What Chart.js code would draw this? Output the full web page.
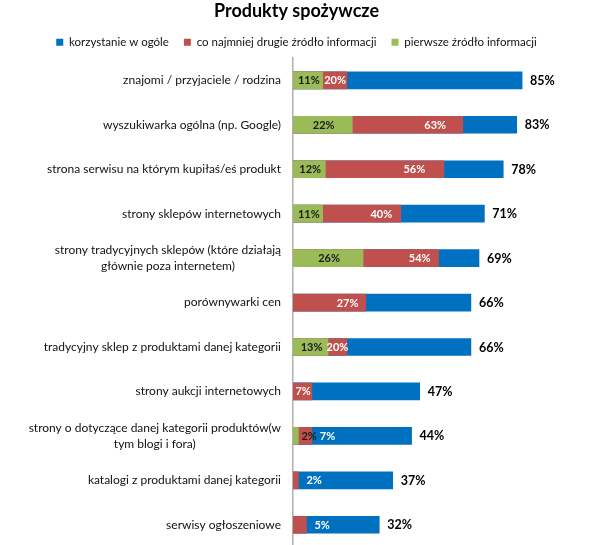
<!DOCTYPE html>
<html><head><meta charset="utf-8">
<script src="https://cdn.jsdelivr.net/npm/chart.js@4.4.1/dist/chart.umd.min.js"></script>
<style>html,body{margin:0;padding:0;background:#fff;overflow:hidden}#wrap{width:615px;height:560px}</style>
</head><body><div id="wrap"><canvas id="c" width="615" height="560"></canvas></div>
<script>
const chartTitle = 'Produkty spożywcze';
const categories = [
  ['znajomi / przyjaciele / rodzina'],
  ['wyszukiwarka ogólna (np. Google)'],
  ['strona serwisu na którym kupiłaś/eś produkt'],
  ['strony sklepów internetowych'],
  ['strony tradycyjnych sklepów (które działają', 'głównie poza internetem)'],
  ['porównywarki cen'],
  ['tradycyjny sklep z produktami danej kategorii'],
  ['strony aukcji internetowych'],
  ['strony o dotyczące danej kategorii produktów(w', 'tym blogi i fora)'],
  ['katalogi z produktami danej kategorii'],
  ['serwisy ogłoszeniowe']
];
const seriesNames = ['korzystanie w ogóle', 'co najmniej drugie źródło informacji', 'pierwsze źródło informacji'];
const useTotal     = [85, 83, 78, 71, 69, 66, 66, 47, 44, 37, 32];
const secondSource = [20, 63, 56, 40, 54, 27, 20, 7, 7, 2, 5];
const firstSource  = [11, 22, 12, 11, 26, null, 13, null, 2, null, null];

const BLUE = '#0070C0', RED = '#C0504D', GREEN = '#9BBB59';
const FONT = 'Lato';
const PLOT_LEFT = 293;

const catLabelPlugin = {
  id: 'catLabels',
  afterDraw(chart) {
    const ctx = chart.ctx, y = chart.scales.y;
    ctx.save();
    ctx.font = '12px ' + FONT;
    ctx.fillStyle = '#111';
    ctx.textBaseline = 'middle';
    ctx.textAlign = 'center';
    const right = 281, lh = 15.5;
    categories.forEach((lines, i) => {
      const yc = y.getPixelForValue(i);
      const maxW = Math.max(...lines.map(l => ctx.measureText(l).width));
      const cx = right - maxW / 2;
      lines.forEach((l, k) => {
        ctx.fillText(l, cx, yc + (k - (lines.length - 1) / 2) * lh);
      });
    });
    ctx.restore();
  }
};

const valueLabelPlugin = {
  id: 'valueLabels',
  afterDatasetsDraw(chart) {
    const ctx = chart.ctx, x = chart.scales.x, y = chart.scales.y;
    const x0 = x.getPixelForValue(0);
    ctx.save();
    ctx.textBaseline = 'middle';
    categories.forEach((_, i) => {
      const yc = y.getPixelForValue(i) + 0.5;
      ctx.font = 'bold 12.5px ' + FONT;
      ctx.fillStyle = '#000';
      ctx.textAlign = 'left';
      ctx.fillText(useTotal[i] + '%', x.getPixelForValue(useTotal[i]) + 8, yc);
      ctx.font = 'bold 11px ' + FONT;
      let start = x0;
      const g = firstSource[i];
      if (g != null) {
        const end = x.getPixelForValue(g);
        const t = g + '%';
        ctx.fillStyle = '#1a1a1a';
        if (end - x0 < 16) { ctx.textAlign = 'left'; ctx.fillText(t, end + 3, yc); }
        else { ctx.textAlign = 'center'; ctx.fillText(t, (x0 + end) / 2 + 1, yc); }
        start = end;
      }
      const r = secondSource[i];
      if (r != null) {
        const end = x.getPixelForValue(r);
        const t = r + '%';
        const lw = ctx.measureText(t).width;
        const w = end - start;
        ctx.fillStyle = '#fff';
        if (w < 16) { ctx.textAlign = 'left'; ctx.fillText(t, end + 8, yc); }
        else {
          let c = Math.min(start + 0.75 * w, end - lw / 2 - 1);
          c = Math.max(c, start + w / 2);
          ctx.textAlign = 'center';
          ctx.fillText(t, c, yc);
        }
      }
    });
    ctx.restore();
  }
};

const mkDs = (label, data, color) => ({
  label, data, backgroundColor: color, borderWidth: 0,
  grouped: false, barThickness: 17
});

new Chart(document.getElementById('c'), {
  type: 'bar',
  data: {
    labels: categories,
    datasets: [
      mkDs(seriesNames[2], firstSource, GREEN),
      mkDs(seriesNames[1], secondSource, RED),
      mkDs(seriesNames[0], useTotal, BLUE)
    ]
  },
  options: {
    indexAxis: 'y',
    responsive: false,
    animation: false,
    devicePixelRatio: 1,
    layout: { padding: { left: 0, right: 22, top: 0, bottom: 13 } },
    plugins: {
      title: {
        display: true, text: chartTitle, color: '#000',
        font: { family: FONT, size: 18, weight: 'bold' },
        padding: { top: 0, bottom: 0 }
      },
      legend: {
        display: true, position: 'top',
        labels: {
          boxWidth: 7, boxHeight: 7, color: '#111',
          font: { family: FONT, size: 11.5 }, padding: 15,
          sort: (a, b) => b.datasetIndex - a.datasetIndex
        }
      },
      tooltip: { enabled: false }
    },
    scales: {
      x: { min: 0, max: 111.3, display: false },
      y: {
        grid: { display: false },
        border: { display: true, color: '#b0b0b0', width: 1.5 },
        ticks: { display: false },
        afterFit(s) { s.width = PLOT_LEFT; }
      }
    }
  },
  plugins: [catLabelPlugin, valueLabelPlugin]
});
</script>
</body></html>
